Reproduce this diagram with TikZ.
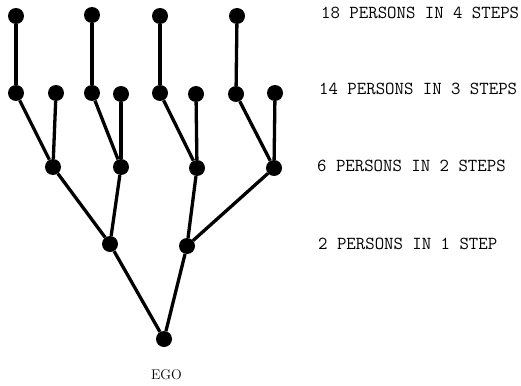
\documentclass[tikz,border=0pt]{standalone}
\usepackage{tikz}
\newcommand{\steptext}{\fontsize{18.3}{18.3}\selectfont\ttfamily}

\begin{document}
\begin{tikzpicture}[x=1pt,y=-1pt,
  dot/.style={circle,fill=black,minimum size=16pt,inner sep=0pt},
  tie/.style={line width=3.3pt}]
\useasboundingbox (0,0) rectangle (521,385);

\node[dot] (41) at (16,16) {};
\node[dot] (42) at (92,15) {};
\node[dot] (43) at (160,16) {};
\node[dot] (44) at (237,16) {};

\node[dot] (31) at (16,93) {};
\node[dot] (32) at (56,93) {};
\node[dot] (33) at (92,93) {};
\node[dot] (34) at (121,94) {};
\node[dot] (35) at (160,93) {};
\node[dot] (36) at (196,94) {};
\node[dot] (37) at (236,94) {};
\node[dot] (38) at (275,93) {};

\node[dot] (21) at (53,167) {};
\node[dot] (22) at (121,167) {};
\node[dot] (23) at (197,168) {};
\node[dot] (24) at (274,168) {};

\node[dot] (11) at (110,244) {};
\node[dot] (12) at (187,246) {};

\node[dot] (0) at (164,339) {};

\draw[tie] (41) edge[] (31) ;
\draw[tie] (42) edge[] (33) ;
\draw[tie] (43) edge[] (35) ;
\draw[tie] (44) edge[] (37) ;

\draw[tie] (31) edge[] (21) ;
\draw[tie] (32) edge[] (21) ;
\draw[tie] (33) edge[] (22) ;
\draw[tie] (34) edge[] (22) ;
\draw[tie] (35) edge[] (23) ;
\draw[tie] (36) edge[] (23) ;
\draw[tie] (37) edge[] (24) ;
\draw[tie] (38) edge[] (24) ;

\draw[tie] (21) edge[] (11) ;
\draw[tie] (22) edge[] (11) ;
\draw[tie] (23) edge[] (12) ;
\draw[tie] (24) edge[] (12) ;

\draw[tie] (11) edge[] (0) ;
\draw[tie] (12) edge[] (0) ;

\node (ego) at (166.5,375) {\fontsize{14}{14}\selectfont EGO};

\node[anchor=west,inner sep=0pt] (l4) at (321,13) {\steptext 18 PERSONS IN 4 STEPS};
\node[anchor=west,inner sep=0pt] (l3) at (319,89) {\steptext 14 PERSONS IN 3 STEPS};
\node[anchor=west,inner sep=0pt] (l2) at (317,166) {\steptext 6 PERSONS IN 2 STEPS};
\node[anchor=west,inner sep=0pt] (l1) at (318,243.5) {\steptext 2 PERSONS IN 1 STEP};

\end{tikzpicture}
\end{document}
